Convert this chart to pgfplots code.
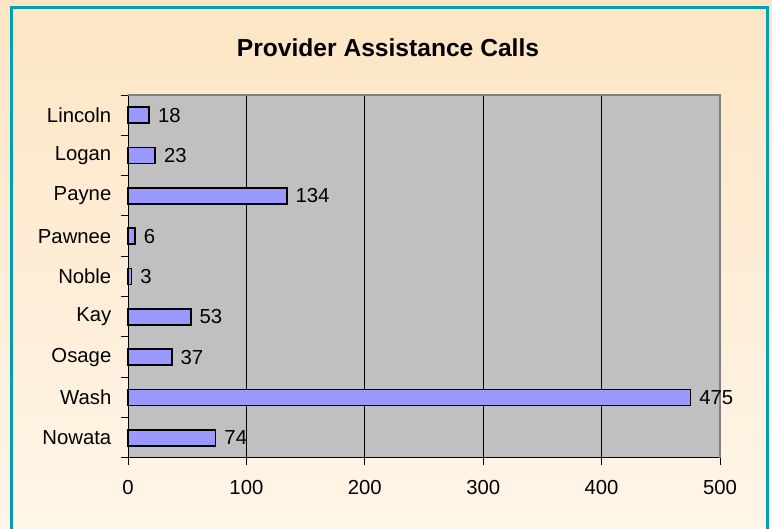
\documentclass[border=0pt]{standalone}
\usepackage{pgfplots}
\pgfplotsset{compat=1.18}
\usepackage{fontspec}
\setmainfont{Liberation Sans}
\definecolor{bgtop}{RGB}{253,229,196}
\definecolor{bgbot}{RGB}{255,245,232}
\definecolor{frame}{RGB}{0,160,176}
\definecolor{plotbg}{RGB}{192,192,192}
\definecolor{barfill}{RGB}{153,153,255}
\definecolor{edge}{RGB}{128,128,128}

\begin{document}
\begin{tikzpicture}[x=1pt,y=1pt]
  \useasboundingbox (0,0) rectangle (772,529);
  \shade[top color=bgtop, bottom color=bgbot] (0,0) rectangle (772,529);
  \draw[frame, line width=3pt] (11,-10) rectangle (767,521.5);
  \node[anchor=base, inner sep=0pt, font=\fontsize{24.6}{30}\selectfont\bfseries] at (388,472.3) {Provider Assistance Calls};

  \begin{axis}[
    at={(128pt,71pt)}, anchor=south west,
    scale only axis, width=592pt, height=363pt,
    xmin=0, xmax=500, ymin=-0.5, ymax=8.5,
    xbar, bar width=16pt,
    axis background/.style={fill=plotbg},
    axis x line*=bottom, axis y line*=left,
    axis line style={black, line width=1pt},
    xtick={0,100,...,500},
    ytick={0,...,8},
    yticklabels={Nowata,Wash,Osage,Kay,Noble,Pawnee,Payne,Logan,Lincoln},
    minor ytick={-0.5,0.5,...,8.5},
    major y tick style={draw=none},
    tick align=outside,
    major tick length=7pt, minor tick length=7pt,
    tick style={black, line width=1pt},
    xmajorgrids, grid style={black, line width=0.8pt},
    tick label style={font=\fontsize{20.3}{24}\selectfont},
    /pgf/number format/assume math mode=true,
    yticklabel style={inner sep=0pt, xshift=-9.5pt},
    xticklabel style={inner sep=0pt, yshift=-15pt},
    nodes near coords,
    nodes near coords style={font=\fontsize{20.3}{24}\selectfont, anchor=west, inner sep=0pt, xshift=8pt},
    clip=false,
  ]
    \addplot[fill=barfill, draw=black, line width=1.7pt] coordinates {
      (74,0) (475,1) (37,2) (53,3) (3,4) (6,5) (134,6) (23,7) (18,8)
    };
    \draw[edge, line width=2pt] (rel axis cs:0,1) -- (rel axis cs:1,1) -- (rel axis cs:1,0);
  \end{axis}
\end{tikzpicture}
\end{document}
